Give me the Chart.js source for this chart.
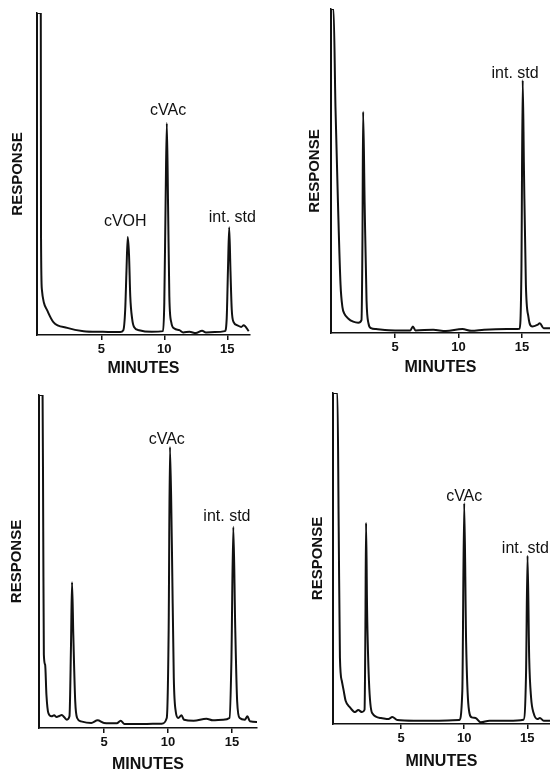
<!DOCTYPE html>
<html>
<head>
<meta charset="utf-8">
<script src="https://cdn.jsdelivr.net/npm/chart.js@4.4.0/dist/chart.umd.min.js"></script>
<style>
  html, body { margin: 0; padding: 0; background: #fff; }
  #page { position: relative; width: 550px; height: 773px; overflow: hidden; }
  canvas { position: absolute; }
</style>
</head>
<body>
<div id="page">
  <canvas id="chartA" width="275" height="386" style="left:0;top:0"></canvas>
  <canvas id="chartB" width="275" height="386" style="left:275px;top:0"></canvas>
  <canvas id="chartC" width="275" height="387" style="left:0;top:386px"></canvas>
  <canvas id="chartD" width="275" height="387" style="left:275px;top:386px"></canvas>
</div>
<script>
// tick labels on the time axis (minutes)
const minuteTicks = [5, 10, 15];

// top left: solvent, cVOH, cVAc, internal standard
const aMinutes = [-0.1, -0.1, 0.2, 0.22, 0.29, 0.45, 0.69, 1.2, 2.3, 3.6, 5, 6.5,
  6.75, 6.9, 7.0, 7.1, 7.2, 7.3, 7.45, 7.6, 8, 9, 9.9,
  10.0, 10.1, 10.2, 10.3, 10.4, 10.55, 10.8, 11.2, 11.5, 12, 12.5, 13, 13.3, 14, 14.8,
  14.95, 15.05, 15.15, 15.25, 15.35, 15.5, 15.8, 16.1, 16.3, 16.7];
const aResponse = [0, 100, 100, 30, 14, 10, 7.8, 4, 2.2, 1.2, 1, 0.9,
  1.5, 8, 20, 30.4, 25, 12, 5, 2.5, 1.5, 1, 1.2,
  10, 40, 65.8, 40, 12, 4, 2, 1.5, 0.8, 1, 0.6, 1.3, 0.8, 0.9, 1.2,
  5, 20, 33.5, 20, 8, 4, 3, 2.5, 3, 1.2];
const aLabels = ['cVOH', 'cVAc', 'int. std'];
const aLabelX = [6.9, 10.3, 15.4];
const aLabelY = [35.1, 69.6, 36.6];

// top right: solvent, early peak, internal standard
const bMinutes = [-0.05, -0.05, 0.15, 0.3, 0.5, 0.7, 0.85, 1.0, 1.3, 1.7, 2.1, 2.35,
  2.43, 2.48, 2.6, 2.75, 2.9, 3.1, 3.5, 5, 6.2, 6.4, 6.6, 8, 9, 10.3, 11, 12, 13.8, 14.8,
  14.95, 15.05, 15.15, 15.3, 15.5, 15.8, 16.2, 16.4, 16.7, 17.2];
const bResponse = [0, 100, 100, 70, 40, 15, 8, 6, 4.5, 3.5, 3.2, 4,
  30, 68.3, 40, 10, 3, 1.5, 1.2, 0.8, 0.8, 2, 0.8, 1, 0.6, 1.2, 0.7, 1, 1.2, 1.3,
  20, 78, 50, 15, 5, 2, 2.5, 3, 1.5, 1.5];
const bLabels = ['int. std'];
const bLabelX = [14.45];
const bLabelY = [80.2];

// bottom left: solvent, early peak, cVAc, internal standard
const cMinutes = [-0.08, -0.08, 0.2, 0.25, 0.3, 0.4, 0.5, 0.65, 0.9, 1.1, 1.3, 1.5, 1.7, 1.9, 2.1, 2.3,
  2.42, 2.5, 2.6, 2.75, 2.9, 3.2, 4, 4.5, 5, 6, 6.3, 6.6, 8, 9.5, 9.9,
  10.05, 10.15, 10.3, 10.45, 10.6, 10.8, 11.05, 11.25, 12, 13, 13.5, 14.3, 14.8,
  14.95, 15.1, 15.25, 15.4, 15.6, 16.0, 16.2, 16.4, 17];
const cResponse = [0, 100, 100, 60, 22, 19, 10, 4.5, 3.5, 3.8, 3.3, 3.6, 3.9, 3.2, 2.5, 3.5,
  25, 43.8, 28, 8, 3, 2, 1.5, 2.3, 1.5, 1.4, 2.2, 1.2, 1.2, 1.3, 3,
  30, 84.4, 55, 15, 5, 3, 3.8, 2.5, 2.2, 2.8, 2.3, 2.5, 3,
  20, 60.4, 30, 8, 3, 2.5, 3.5, 2, 1.8];
const cLabels = ['cVAc', 'int. std'];
const cLabelX = [9.9, 14.6];
const cLabelY = [86.5, 63.4];

// bottom right: solvent, early peak, cVAc, internal standard
const dMinutes = [-0.4, -0.4, -0.05, 0.05, 0.15, 0.3, 0.45, 0.6, 0.95, 1.35, 1.6, 1.9, 2.1,
  2.17, 2.22, 2.3, 2.45, 2.7, 3.4, 4.0, 4.3, 4.7, 6, 8, 9.6,
  9.85, 10.0, 10.15, 10.35, 10.6, 10.9, 11.3, 12, 13.5, 14.7,
  14.9, 15.02, 15.15, 15.3, 15.5, 15.8, 16.0, 16.3, 16.8];
const dResponse = [0, 100, 100, 60, 20, 13, 10, 7, 5, 3.6, 4.2, 3.6, 4.3,
  30, 60.8, 35, 13, 3.3, 1.8, 1.5, 2.1, 1.2, 1, 1, 1.2,
  10, 66.7, 25, 5, 2, 1.8, 0.5, 1, 1, 1.3,
  15, 50.8, 20, 8, 3.3, 1.5, 1.8, 1, 1];
const dLabels = ['cVAc', 'int. std'];
const dLabelX = [10.0, 14.85];
const dLabelY = [68.6, 52.9];

Chart.defaults.font.family = "'Liberation Sans', Arial, sans-serif";
Chart.defaults.color = '#111';

// writes the peak names above their peaks
const peakLabels = {
  id: 'peakLabels',
  afterDatasetsDraw(chart, args, opts) {
    const ctx = chart.ctx;
    ctx.save();
    ctx.fillStyle = '#111';
    ctx.font = "16px 'Liberation Sans', Arial, sans-serif";
    ctx.textAlign = 'center';
    ctx.textBaseline = 'middle';
    opts.text.forEach((t, i) => {
      ctx.fillText(t, chart.scales.x.getPixelForValue(opts.x[i]), chart.scales.y.getPixelForValue(opts.y[i]));
    });
    ctx.restore();
  }
};

function makeChart(id, minutes, response, text, lx, ly, box) {
  return new Chart(document.getElementById(id), {
    type: 'line',
    data: {
      datasets: [{
        data: minutes.map((m, i) => ({ x: m, y: response[i] })),
        borderColor: '#111',
        borderWidth: 2,
        pointRadius: 0,
        cubicInterpolationMode: 'monotone',
        fill: false
      }]
    },
    options: {
      responsive: false,
      animation: false,
      events: [],
      layout: { padding: { top: box.top, right: box.right, left: 0, bottom: 0 } },
      scales: {
        x: {
          type: 'linear',
          min: box.xMin,
          max: box.xMax,
          afterBuildTicks: s => { s.ticks = minuteTicks.map(v => ({ value: v })); },
          afterFit: s => { s.height = box.xh; },
          ticks: { color: '#111', font: { size: 13, weight: 'bold' }, padding: 2, maxRotation: 0 },
          grid: { display: true, drawOnChartArea: false, drawTicks: true, tickLength: 5, color: '#111', lineWidth: 1.5 },
          border: { display: true, color: '#111', width: 1.5 },
          title: { display: true, text: 'MINUTES', color: '#111', font: { size: 16, weight: 'bold' }, padding: { top: 0, bottom: box.minPad } }
        },
        y: {
          min: 0,
          max: 100,
          afterFit: s => { s.width = box.yw; },
          ticks: { display: false },
          grid: { display: false },
          border: { display: true, color: '#111', width: 1.5 },
          title: { display: true, text: 'RESPONSE', color: '#111', font: { size: 15, weight: 'bold' }, padding: { top: box.resPad, bottom: 0 } }
        }
      },
      plugins: {
        legend: { display: false },
        tooltip: { enabled: false },
        peakLabels: { text: text, x: lx, y: ly }
      }
    },
    plugins: [peakLabels]
  });
}

makeChart('chartA', aMinutes, aResponse, aLabels, aLabelX, aLabelY,
  { top: 13, right: 25, yw: 37, xh: 51, xMin: -0.1, xMax: 16.8, resPad: 9, minPad: 7.4 });
makeChart('chartB', bMinutes, bResponse, bLabels, bLabelX, bLabelY,
  { top: 9, right: 0, yw: 56, xh: 53, xMin: -0.05, xMax: 17.2, resPad: 31, minPad: 8.4 });
makeChart('chartC', cMinutes, cResponse, cLabels, cLabelX, cLabelY,
  { top: 9, right: 18, yw: 39, xh: 45, xMin: -0.08, xMax: 16.95, resPad: 8, minPad: -1 });
makeChart('chartD', dMinutes, dResponse, dLabels, dLabelX, dLabelY,
  { top: 7, right: 0, yw: 58, xh: 49, xMin: -0.4, xMax: 16.8, resPad: 34, minPad: 1.4 });
</script>
</body>
</html>
